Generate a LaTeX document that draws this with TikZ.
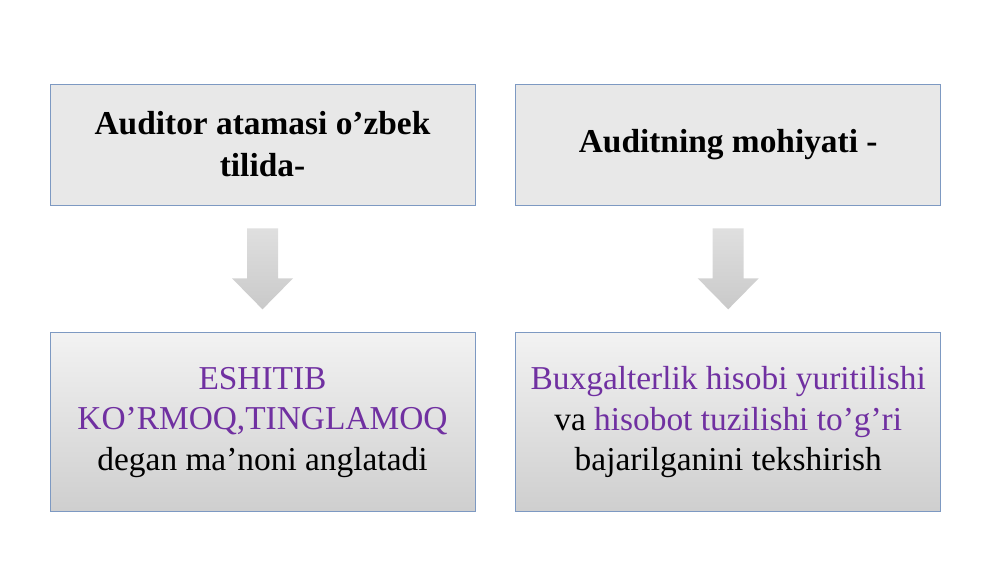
\documentclass[tikz,border=0pt]{standalone}
\usepackage{fontspec}
\setmainfont{Liberation Serif}
\usepackage{tikz}
\usetikzlibrary{positioning, calc}
\definecolor{myblue}{rgb}{0.49,0.60,0.76}
\definecolor{mypurple}{rgb}{0.44,0.19,0.63}
\definecolor{mygray}{gray}{0.91}

\tikzset{
    topbox/.style={draw=myblue, fill=mygray, minimum width=8.5cm, minimum height=2.42cm, align=center, font=\fontsize{19}{24}\selectfont\bfseries},
    botbox/.style={draw=myblue, top color=gray!10, bottom color=gray!38, minimum width=8.5cm, minimum height=3.58cm, align=center, font=\fontsize{19}{23}\selectfont},
    downarrow/.style={top color=gray!25, bottom color=gray!42, draw=none}
}

\begin{document}
\begin{tikzpicture}[scale=1, >=latex]
    \useasboundingbox (0,0) rectangle (20,11.24);
    \node[topbox] (qL) at (5.25,8.35) {Auditor atamasi o’zbek\\tilida-};
    \node[topbox, right=0.8cm of qL] (qR) {Auditning mohiyati -};
    \node[botbox, below=2.54cm of qL] (aL) {\textcolor{mypurple}{ESHITIB}\\\textcolor{mypurple}{KO’RMOQ,TINGLAMOQ}\\degan ma’noni anglatadi};
    \node[botbox, below=2.54cm of qR] (aR) {\textcolor{mypurple}{Buxgalterlik hisobi yuritilishi}\\va \textcolor{mypurple}{hisobot tuzilishi to’g’ri}\\bajarilganini tekshirish};
    \coordinate (mL) at ($(qL.south)!0.5!(aL.north)$);
    \coordinate (mR) at ($(qR.south)!0.5!(aR.north)$);
    \shade[downarrow] ($(mL)+(-0.31,0.81)$) -- ++(0.62,0) -- ++(0,-1.0) -- ++(0.3,0) -- ++(-0.61,-0.62) -- ++(-0.61,0.62) -- ++(0.3,0) -- cycle;
    \shade[downarrow] ($(mR)+(-0.31,0.81)$) -- ++(0.62,0) -- ++(0,-1.0) -- ++(0.3,0) -- ++(-0.61,-0.62) -- ++(-0.61,0.62) -- ++(0.3,0) -- cycle;
\end{tikzpicture}
\end{document}
